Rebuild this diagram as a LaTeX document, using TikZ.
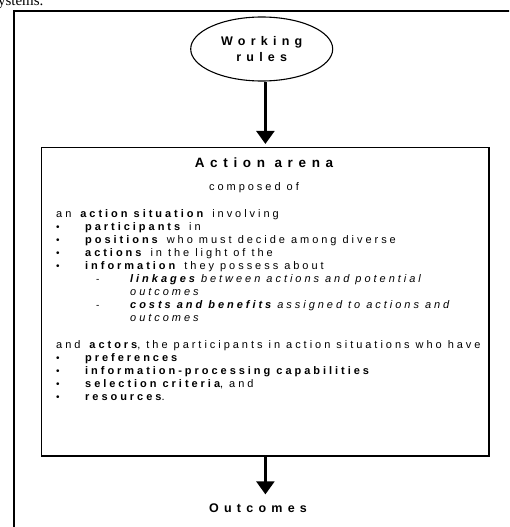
\documentclass[tikz,border=0pt]{standalone}
\usepackage{fontspec}
\setmainfont{Liberation Sans}
\newfontfamily\bodyfont[LetterSpace=27]{Liberation Sans}
\newfontfamily\headfont[LetterSpace=42]{Liberation Sans}
\newfontfamily\pageserif{Liberation Serif}
\usetikzlibrary{arrows.meta,shapes.geometric}

\tikzset{
  frame/.style={line width=2pt, line cap=rect},
  flowarrow/.style={line width=2.4pt, -{Triangle[width=18pt,length=13pt]}},
  ln/.style={anchor=base west, inner sep=0pt, font=\bodyfont\fontsize{11}{13}\selectfont},
  head/.style={inner sep=0pt, font=\headfont\bfseries\fontsize{12.5}{16}\selectfont, align=center},
  bul/.style={anchor=base west, inner sep=0pt, font=\fontsize{10}{12}\selectfont},
}

\begin{document}
\begin{tikzpicture}[x=1pt,y=-1pt]
\useasboundingbox (0,0) rectangle (509,527);
\clip (0,0) rectangle (509,527);

% running text of the page above the figure
\node[anchor=base west, inner sep=0pt, font=\pageserif\fontsize{15}{16}\selectfont] (pg) at (-8,6) {systems.};

% outer frame of the figure
\coordinate (fbl) at (13.8,540);
\coordinate (ftl) at (13.8,10.8);
\coordinate (ftr) at (520,10.8);
\draw[frame] (fbl) -- (ftl) -- (ftr);

% working rules
\node[ellipse, draw, line width=1.1pt, minimum width=142pt, minimum height=64pt,
      inner sep=0pt, head] (wr) at (261.7,49) {Working\\rules};

% action arena box
\node[draw, line width=1.4pt, minimum width=447.3pt, minimum height=308.3pt, inner sep=0pt]
  (arena) at (265.4,301.8) {};

\node[head, font=\headfont\bfseries\fontsize{13.5}{16}\selectfont] (title) at (264,163) {Action arena};
\node[ln, anchor=base] (comp) at (254,190.5) {composed of};

\node[ln] (l1) at (56,217) {an \textbf{action situation} involving};
\node[ln] (l2) at (85,230.1) {\textbf{participants} in};
\node[ln] (l3) at (85,243.2) {\textbf{positions} who must decide among diverse};
\node[ln] (l4) at (85,256.3) {\textbf{actions} in the light of the};
\node[ln] (l5) at (85,269.4) {\textbf{information} they possess about};
\node[ln] (l6) at (130,282.5) {\itshape\textbf{linkages} between actions and potential};
\node[ln] (l7) at (130,295.6) {\itshape outcomes};
\node[ln] (l8) at (130,308.7) {\itshape\textbf{costs and benefits} assigned to actions and};
\node[ln] (l9) at (130,321.8) {\itshape outcomes};

\node[ln] (m1) at (56,348) {and \textbf{actors}, the participants in action situations who have};
\node[ln] (m2) at (85,361.1) {\textbf{preferences}};
\node[ln] (m3) at (85,374.2) {\textbf{information-processing capabilities}};
\node[ln] (m4) at (85,387.3) {\textbf{selection criteria}, and};
\node[ln] (m5) at (85,400.4) {\textbf{resources}.};

% bullets and dashes
\foreach \r/\y in {a/230.1,b/243.2,c/256.3,d/269.4,e/361.1,f/374.2,g/387.3,h/400.4}
  \node[bul] (bul\r) at (56,\y) {•};
\foreach \r/\y in {a/282.5,b/308.7}
  \node[bul] (dash\r) at (96,\y) {-};

% outcomes
\node[head] (out) at (258,508) {Outcomes};

% connectors
\draw[flowarrow, shorten >=3pt] (arena.north |- wr.south) -- (arena.north);
\draw[flowarrow, shorten >=9pt] (arena.south) -- (arena.south |- out.north);
\end{tikzpicture}
\end{document}
